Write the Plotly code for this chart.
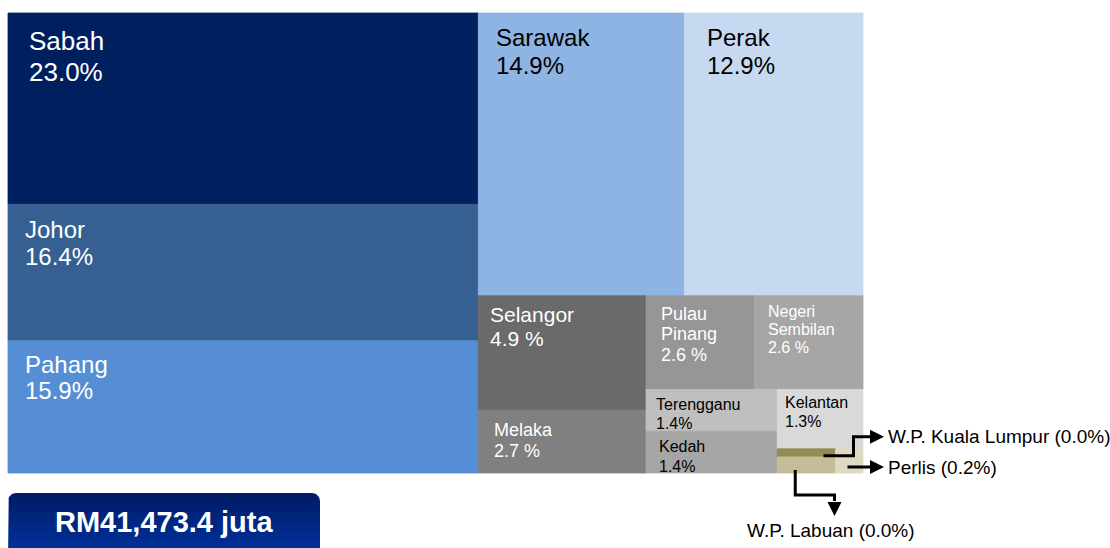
import numpy as np
import plotly.graph_objects as go

# ---------------- data ----------------
regions = ["Sabah", "Johor", "Pahang", "Sarawak", "Perak", "Selangor", "Melaka",
           "Pulau Pinang", "Negeri Sembilan", "Terengganu", "Kedah", "Kelantan",
           "W.P. Kuala Lumpur", "W.P. Labuan", "Perlis"]
shares = [23.0, 16.4, 15.9, 14.9, 12.9, 4.9, 2.7, 2.6, 2.6, 1.4, 1.4, 1.3, 0.0, 0.0, 0.2]
# tile areas as drawn (tiny tiles are visibly larger than their rounded share)
tile_weight = [23.0, 16.4, 15.9, 14.9, 12.9, 4.9, 2.7, 2.6, 2.6, 1.4, 1.4, 1.3, 0.12, 0.24, 0.17]
pct_labels = ["23.0%", "16.4%", "15.9%", "14.9%", "12.9%", "4.9 %", "2.7 %", "2.6 %", "2.6 %",
              "1.4%", "1.4%", "1.3%", "(0.0%)", "(0.0%)", "(0.2%)"]
total_label = "RM41,473.4 juta"

# ---------------- styles ----------------
FONT = "Arial, Liberation Sans, sans-serif"
colors = {
    "Sabah": "#001f5f", "Johor": "#366092", "Pahang": "#558ed5", "Sarawak": "#8db4e2",
    "Perak": "#c6d9f1", "Selangor": "#6a6a6a", "Melaka": "#808080", "Pulau Pinang": "#969696",
    "Negeri Sembilan": "#a6a6a6", "Terengganu": "#bfbfbf", "Kedah": "#a6a6a6",
    "Kelantan": "#d9d9d9", "W.P. Kuala Lumpur": "#948a54", "W.P. Labuan": "#c4bd97",
    "Perlis": "#ddd9c3",
}
# label style: (name lines, font size, colour, dx, dy first line centre, line step)
label_style = {
    "Sabah": (["Sabah"], 26, "white", 19, 28, 31),
    "Johor": (["Johor"], 24, "white", 15, 25, 27),
    "Pahang": (["Pahang"], 24, "white", 15, 24, 26),
    "Sarawak": (["Sarawak"], 24, "black", 16, 24, 28),
    "Perak": (["Perak"], 24, "black", 20, 24, 28),
    "Selangor": (["Selangor"], 21, "white", 10, 19, 24),
    "Melaka": (["Melaka"], 18, "white", 14, 20, 21),
    "Pulau Pinang": (["Pulau", "Pinang"], 18, "white", 13, 18, 20.5),
    "Negeri Sembilan": (["Negeri", "Sembilan"], 16, "white", 11, 16, 18),
    "Terengganu": (["Terengganu"], 16, "black", 8, 15, 19),
    "Kedah": (["Kedah"], 16, "black", 11, 15, 20),
    "Kelantan": (["Kelantan"], 16, "black", 6, 13, 19),
}

# treemap split structure: 'h' = side by side, 'v' = stacked
tree = ("h", [
    ("v", ["Sabah", "Johor", "Pahang"]),
    ("v", [
        ("h", ["Sarawak", "Perak"]),
        ("h", [
            ("v", ["Selangor", "Melaka"]),
            ("v", [
                ("h", ["Pulau Pinang", "Negeri Sembilan"]),
                ("h", [
                    ("v", ["Terengganu", "Kedah"]),
                    ("v", ["Kelantan",
                           ("h", [("v", ["W.P. Kuala Lumpur", "W.P. Labuan"]), "Perlis"])]),
                ]),
            ]),
        ]),
    ]),
])

W = dict(zip(regions, tile_weight))
PCT = dict(zip(regions, pct_labels))


def weight(node):
    if isinstance(node, str):
        return W[node]
    return sum(weight(c) for c in node[1])


def layout(node, x0, y0, x1, y1, out):
    if isinstance(node, str):
        out[node] = (x0, y0, x1, y1)
        return
    d, ch = node
    tot = weight(node)
    pos = x0 if d == "h" else y0
    for c in ch:
        f = weight(c) / tot
        if d == "h":
            w = (x1 - x0) * f
            layout(c, pos, y0, pos + w, y1, out)
        else:
            w = (y1 - y0) * f
            layout(c, x0, pos, x1, pos + w, out)
        pos += w


FX0, FY0, FW, FH = 8, 13, 855, 460
rects = {}
layout(tree, FX0, FY0, FX0 + FW, FY0 + FH, rects)

fig = go.Figure()
for r in regions:
    x0, y0, x1, y1 = rects[r]
    fig.add_trace(go.Scatter(
        x=[x0, x1, x1, x0, x0], y=[y0, y0, y1, y1, y0], mode="lines",
        fill="toself", fillcolor=colors[r], line=dict(width=0.8, color=colors[r]),
        hoverinfo="skip", showlegend=False))

annotations = []
for r, (lines, size, col, dx, dy, step) in label_style.items():
    x0, y0, x1, y1 = rects[r]
    all_lines = lines + [PCT[r]]
    for i, t in enumerate(all_lines):
        annotations.append(dict(
            x=x0 + dx, y=y0 + dy + i * step, xref="x", yref="y", text=t,
            showarrow=False, xanchor="left", yanchor="middle",
            font=dict(family=FONT, size=size, color=col)))

# ---------------- callouts for tiny tiles ----------------
shapes = []
LW = 3
CALLOUT_SIZE = 19
label_x = FX0 + FW + 23


def head(tipx, tipy, direction):
    L, H = 14, 7
    if direction == "right":
        p = f"M {tipx},{tipy} L {tipx - L},{tipy - H} L {tipx - L},{tipy + H} Z"
    else:  # down
        p = f"M {tipx},{tipy} L {tipx - H},{tipy - L} L {tipx + H},{tipy - L} Z"
    shapes.append(dict(type="path", path=p, xref="x", yref="y",
                       fillcolor="black", line=dict(width=0)))


def poly(pts):
    p = "M " + " L ".join(f"{a},{b}" for a, b in pts)
    shapes.append(dict(type="path", path=p, xref="x", yref="y",
                       line=dict(color="black", width=LW)))


# Kuala Lumpur
kx0, ky0, kx1, ky1 = rects["W.P. Kuala Lumpur"]
kl_y = rects["Kelantan"][3] - 12
poly([(kx1 - 12, (ky0 + ky1) / 2 + 3), (kx1 + 18, (ky0 + ky1) / 2 + 3),
      (kx1 + 18, kl_y), (label_x - 16, kl_y)])
head(label_x - 2, kl_y, "right")
annotations.append(dict(x=label_x, y=kl_y, xref="x", yref="y",
                        text="W.P. Kuala Lumpur " + PCT["W.P. Kuala Lumpur"],
                        showarrow=False, xanchor="left", yanchor="middle",
                        font=dict(family=FONT, size=CALLOUT_SIZE, color="black")))
# Perlis
px0, py0, px1, py1 = rects["Perlis"]
pl_y = py1 - 6
poly([(px0 + 12, pl_y), (label_x - 16, pl_y)])
head(label_x - 2, pl_y, "right")
annotations.append(dict(x=label_x, y=pl_y, xref="x", yref="y",
                        text="Perlis " + PCT["Perlis"], showarrow=False,
                        xanchor="left", yanchor="middle",
                        font=dict(family=FONT, size=CALLOUT_SIZE, color="black")))
# Labuan
lx0, ly0, lx1, ly1 = rects["W.P. Labuan"]
lb_x = lx0 + 18
poly([(lb_x, ly1 - 3), (lb_x, ly1 + 22), (lx1 - 1, ly1 + 22), (lx1 - 1, ly1 + 28)])
head(lx1 - 1, ly1 + 43, "down")
annotations.append(dict(x=lx1 - 5, y=ly1 + 57, xref="x", yref="y",
                        text="W.P. Labuan " + PCT["W.P. Labuan"], showarrow=False,
                        xanchor="center", yanchor="middle",
                        font=dict(family=FONT, size=CALLOUT_SIZE, color="black")))

# ---------------- total box ----------------
bx0, bx1, by0, by1, rad = 8, 320, 493, 560, 8
thl = np.linspace(np.pi, 1.5 * np.pi, 12)
thr = np.linspace(1.5 * np.pi, 2 * np.pi, 12)
xs = [bx0] + list(bx0 + rad + rad * np.cos(thl)) + list(bx1 - rad + rad * np.cos(thr)) + [bx1, bx0]
ys = [by1] + list(by0 + rad + rad * np.sin(thl)) + list(by0 + rad + rad * np.sin(thr)) + [by1, by1]
fig.add_trace(go.Scatter(
    x=xs, y=ys, mode="lines", fill="toself", line=dict(width=0, color="#002a88"),
    fillgradient=dict(type="vertical", colorscale=[[0, "#0035a3"], [1, "#001b66"]]),
    hoverinfo="skip", showlegend=False))
annotations.append(dict(x=(bx0 + bx1) / 2, y=522, xref="x", yref="y", text="<b>" + total_label + "</b>",
                        showarrow=False, xanchor="center", yanchor="middle",
                        font=dict(family=FONT, size=29, color="white")))

fig.update_layout(
    width=1110, height=548, margin=dict(l=0, r=0, t=0, b=0),
    paper_bgcolor="white", plot_bgcolor="white",
    xaxis=dict(range=[0, 1110], visible=False, fixedrange=True),
    yaxis=dict(range=[548, 0], visible=False, fixedrange=True),
    showlegend=False, hovermode=False,
    annotations=annotations, shapes=shapes,
)
fig.write_html("out.html", config={"displayModeBar": False},
               post_script="document.body.style.margin='0';document.body.style.overflow='hidden';")
